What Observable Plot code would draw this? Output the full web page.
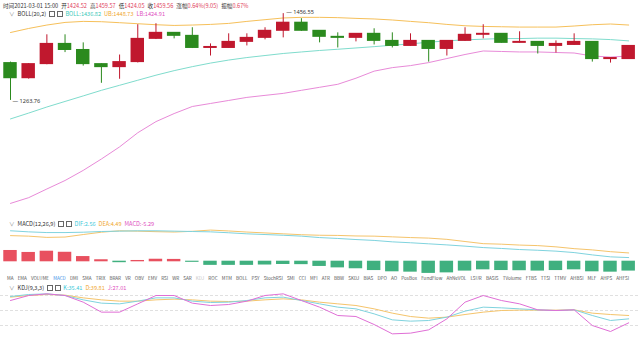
<!DOCTYPE html>
<html><head><meta charset="utf-8">
<script src="https://cdn.jsdelivr.net/npm/d3@7"></script>
<script src="https://cdn.jsdelivr.net/npm/@observablehq/plot@0.6"></script>
<style>
html,body{margin:0;padding:0;background:#fff}
body{width:640px;height:337px;overflow:hidden;position:relative;font-family:"Noto Sans CJK SC","Noto Sans",sans-serif}
.abs{position:absolute}
.hdr{font-size:5.6px;line-height:8px;white-space:nowrap;color:#333}
.r{color:#e0405a;margin-right:3px}
.chev{color:#999;margin-right:3px}
.ico{display:inline-block;width:4px;height:4px;border:0.8px solid #666;margin-right:1.5px;vertical-align:-0.5px}
.sp{margin-right:3px}
.tabs{left:7px;top:275px;width:622px;display:flex;justify-content:space-between;font-size:4.6px;color:#555;white-space:nowrap}
svg{overflow:visible}
</style></head><body>
<div id="price" class="abs" style="left:0;top:0"></div>
<div id="macd" class="abs" style="left:0;top:226px"></div>
<div id="kdj" class="abs" style="left:0;top:290px"></div>
<div id="h1" class="abs hdr" style="left:3px;top:2px"></div>
<div id="h2" class="abs hdr" style="left:9px;top:10px"></div>
<div id="h3" class="abs hdr" style="left:9px;top:220px"></div>
<div id="tabs" class="abs tabs"></div>
<div id="h4" class="abs hdr" style="left:9px;top:284px"></div>
<script>
// ---- data ----
const open  = [1346.7,1313.1,1344.4,1389.3,1375.8,1344.4,1337.7,1348.9,1400.5,1413.9,1407.2,1380.3,1380.3,1393.8,1402.7,1418.4,1436.4,1418.4,1405.0,1402.7,1411.7,1396.0,1384.8,1396.0,1378.1,1396.0,1409.5,1411.7,1391.6,1393.8,1384.8,1387.0,1393.8,1355.6,1355.6];
const close = [1313.1,1344.4,1389.3,1375.8,1344.4,1337.7,1348.9,1400.5,1413.9,1407.2,1380.3,1382.5,1393.8,1402.7,1418.4,1436.4,1418.4,1405.0,1402.7,1411.7,1396.0,1384.8,1396.0,1378.1,1396.0,1409.5,1411.7,1391.6,1393.8,1384.8,1389.3,1393.8,1355.6,1357.9,1384.8];
const high  = [1348.9,1345.5,1409.5,1409.5,1391.6,1345.0,1364.6,1431.9,1434.1,1414.5,1425.2,1389.3,1411.7,1411.7,1425.2,1456.55,1445.3,1419.0,1413.9,1412.0,1422.9,1413.9,1411.7,1396.5,1396.5,1425.2,1431.9,1412.0,1416.2,1394.0,1396.0,1411.7,1394.0,1358.0,1385.0];
const low   = [1263.76,1311.0,1343.0,1370.0,1340.0,1301.8,1310.8,1347.0,1399.0,1400.5,1379.0,1362.4,1380.0,1384.8,1398.3,1402.7,1417.0,1391.6,1380.3,1393.8,1387.0,1380.3,1384.0,1348.9,1362.4,1395.0,1400.5,1391.0,1391.0,1366.9,1369.1,1386.0,1348.9,1346.7,1355.0];
const ub  = [1414.6,1423.6,1431.2,1437.0,1439.3,1438.6,1436.4,1434.1,1431.9,1430.3,1431.2,1432.6,1434.8,1439.3,1443.1,1446.9,1448.3,1448.3,1447.6,1446.0,1444.7,1442.4,1439.3,1436.4,1432.6,1429.6,1428.1,1427.4,1426.7,1426.7,1426.7,1429.0,1431.9,1433.5,1431.2];
const mid = [1222.7,1235.7,1249.2,1261.5,1273.8,1286.2,1297.4,1308.6,1319.8,1329.9,1338.8,1346.7,1353.4,1359.0,1363.5,1368.0,1371.4,1374.7,1377.4,1380.3,1383.2,1386.4,1389.3,1393.1,1396.0,1398.3,1399.8,1401.2,1401.2,1402.1,1402.1,1401.2,1400.5,1398.9,1396.0];
const lb  = [1035.1,1047.8,1067.1,1085.9,1108.4,1133.7,1160.6,1192.0,1216.7,1234.6,1250.3,1257.0,1263.7,1270.5,1275.0,1279.4,1286.2,1292.9,1299.6,1313.1,1328.8,1336.6,1341.1,1347.8,1356.8,1365.8,1373.6,1372.5,1371.4,1371.4,1370.2,1369.1,1362.4,1360.1,1362.4];
const dif = [17.2,16.6,16.2,16.2,16.4,16.8,17.0,17.2,17.2,17.0,16.8,16.6,16.1,15.5,15.1,14.7,14.2,13.4,12.9,12.3,11.8,11.0,10.5,9.9,9.3,8.6,7.8,7.3,6.7,6.3,5.8,5.0,3.7,2.6,2.2];
const dea = [14.5,14.2,13.5,13.7,15.1,16.4,17.2,17.0,16.7,16.5,16.9,17.6,17.1,16.5,16.0,15.5,15.0,14.7,14.6,14.3,14.2,13.8,13.4,13.1,12.4,11.2,10.0,9.7,9.2,8.9,8.2,7.2,6.5,5.5,4.8];
const macd = [6.0,4.9,5.6,5.0,2.6,0.8,-0.5,0.4,1.1,1.0,-0.3,-2.0,-2.0,-2.0,-1.8,-1.5,-1.6,-2.6,-3.4,-3.9,-4.9,-5.6,-5.8,-6.5,-6.2,-5.2,-4.5,-4.9,-5.0,-5.2,-4.9,-4.5,-5.6,-5.8,-5.2];
const kK = [78,82,83.3,80,71.3,64.7,63.3,68.7,75.3,75.3,68.7,66,66.7,70,75.3,76.7,70,63.3,56.7,53.3,43.3,31.3,28.7,30,36.7,48.7,56.7,55.3,53.3,51.3,50,51.3,40,30,33.3];
const kD = [76.7,80,82,80.7,75.3,71.3,68.7,68.7,71.3,72.7,71.3,68.7,68,68.7,71.3,73.3,71.3,66.7,63.3,60,53.3,44.7,38,34.7,36.7,42,46.7,50,50.7,50.7,50.7,51.3,44.7,42,40];
const kJ = [70,80,83.3,80,66.7,46.7,46.7,63.3,80,80,64.7,60,62,68.7,80,83.3,70,56.7,40,38,22,3.3,4.7,11.3,33.3,66.7,80,70,63.3,51.3,50,51.3,20,8,25.3];
const kdjGrid = [80, 50, 20];
const tabNames = ["MA","EMA","VOLUME","MACD","DMI","SMA","TRIX","BRAR","VR","OBV","EMV","RSI","WR","SAR","KDJ","ROC","MTM","BOLL","PSY","StochRSI","SMI","CCI","MFI","ATR","BBW","SKDJ","BIAS","DPO","AO","PosBox","FundFlow","AhNeVOL","LSUR","BASIS","TVolume","FTBS","TTSI","TTMV","AHBSI","MLF","AHPS","AHFSI"];

// ---- colors ----
const UP = "#c0182e", DOWN = "#2b8a1e";
const BUP = "#e8505f", BDOWN = "#40b07f";
const cUB = "#f6c05a", cMID = "#7fdccd", cLB = "#e88ad8";
const cK = "#7fd3de", cD = "#f5c46b", cJ = "#e06fd6";

const idx = d3.range(open.length);
const xdom = [-0.55, idx.length - 1 + 0.65];
const hw = 0.37;

// ---- price panel ----
const hiI = d3.maxIndex(high), loI = d3.minIndex(low);
const price = Plot.plot({
  width: 640, height: 215, margin: 0,
  x: {domain: xdom, axis: null},
  y: {domain: [1008.2, 1485.7], axis: null},
  style: {background: "transparent", overflow: "visible"},
  marks: [
    Plot.line(idx, {x: i => i, y: i => ub[i], stroke: cUB, strokeWidth: 1}),
    Plot.line(idx, {x: i => i, y: i => mid[i], stroke: cMID, strokeWidth: 1}),
    Plot.line(idx, {x: i => i, y: i => lb[i], stroke: cLB, strokeWidth: 1}),
    Plot.ruleX(idx, {x: i => i, y1: i => low[i], y2: i => high[i], stroke: i => close[i] >= open[i] ? UP : DOWN, strokeWidth: 1}),
    Plot.rect(idx, {x1: i => i - hw, x2: i => i + hw, y1: i => open[i], y2: i => close[i], fill: i => close[i] >= open[i] ? UP : DOWN, insetTop: -0.5, insetBottom: -0.5}),
    Plot.text([hiI], {x: i => i, y: i => high[i], text: i => "— " + high[i].toFixed(2), textAnchor: "start", dx: 3, dy: -1, fontSize: 5.6, fill: "#333"}),
    Plot.text([loI], {x: i => i, y: i => low[i], text: i => "— " + low[i].toFixed(2), textAnchor: "start", dx: 2, dy: 1, fontSize: 5.6, fill: "#333"})
  ]
});
document.getElementById("price").append(price);

// ---- MACD panel ----
const macdPlot = Plot.plot({
  width: 640, height: 48, margin: 0,
  x: {domain: xdom, axis: null},
  y: {domain: [-7.28, 19.6], axis: null},
  style: {background: "transparent", overflow: "visible"},
  marks: [
    Plot.rect(idx, {x1: i => i - hw, x2: i => i + hw, y1: 0, y2: i => macd[i], fill: i => macd[i] >= 0 ? BUP : BDOWN, insetTop: -0.3, insetBottom: -0.3}),
    Plot.line(idx, {x: i => i, y: i => dea[i], stroke: cD, strokeWidth: 1}),
    Plot.line(idx, {x: i => i, y: i => dif[i], stroke: cK, strokeWidth: 1})
  ]
});
document.getElementById("macd").append(macdPlot);

// ---- KDJ panel ----
const kdjPlot = Plot.plot({
  width: 640, height: 47, margin: 0,
  x: {domain: xdom, axis: null},
  y: {domain: [-4, 90], axis: null},
  style: {background: "transparent", overflow: "visible"},
  marks: [
    Plot.ruleY(kdjGrid, {stroke: "#d8d8d8", strokeDasharray: "3,2", strokeWidth: 0.8}),
    Plot.line(idx, {x: i => i, y: i => kD[i], stroke: cD, strokeWidth: 1}),
    Plot.line(idx, {x: i => i, y: i => kK[i], stroke: cK, strokeWidth: 1}),
    Plot.line(idx, {x: i => i, y: i => kJ[i], stroke: cJ, strokeWidth: 1})
  ]
});
document.getElementById("kdj").append(kdjPlot);

// ---- headers ----
document.getElementById("h1").innerHTML =
  '<span class="sp">时间2021-03-01 15:00</span>开<span class="r">1424.52</span>高<span class="r">1459.57</span>低<span class="r">1424.05</span>收<span class="r">1459.56</span>涨幅<span class="r">0.64%(9.05)</span>振幅<span class="r">0.67%</span>';
document.getElementById("h2").innerHTML =
  '<span class="chev">∨</span><span class="sp">BOLL(20,2)</span><span class="ico"></span><span class="ico"></span> <span class="sp" style="color:#3cc9b9">BOLL:1436.82</span><span class="sp" style="color:#f0a830">UB:1448.73</span><span style="color:#e04fc0">LB:1424.91</span>';
document.getElementById("h3").innerHTML =
  '<span class="chev">∨</span><span class="sp">MACD(12,26,9)</span><span class="ico"></span><span class="ico"></span> <span class="sp" style="color:#3cc9d9">DIF:2.56</span><span class="sp" style="color:#f0a830">DEA:4.49</span><span style="color:#e04fc0">MACD:-5.29</span>';
document.getElementById("h4").innerHTML =
  '<span class="chev">∨</span><span class="sp">KDJ(9,3,3)</span><span class="ico"></span><span class="ico"></span> <span class="sp" style="color:#3cc9d9">K:35.41</span><span class="sp" style="color:#f0a830">D:39.81</span><span style="color:#e04fc0">J:27.01</span>';
const tabs = document.getElementById("tabs");
tabNames.forEach(n => {
  const s = document.createElement("span");
  s.textContent = n;
  if (n === "MACD") s.style.color = "#3d8fe6";
  if (n === "KDJ") s.style.color = "#c8c8c8";
  tabs.append(s);
});
</script>
</body></html>
